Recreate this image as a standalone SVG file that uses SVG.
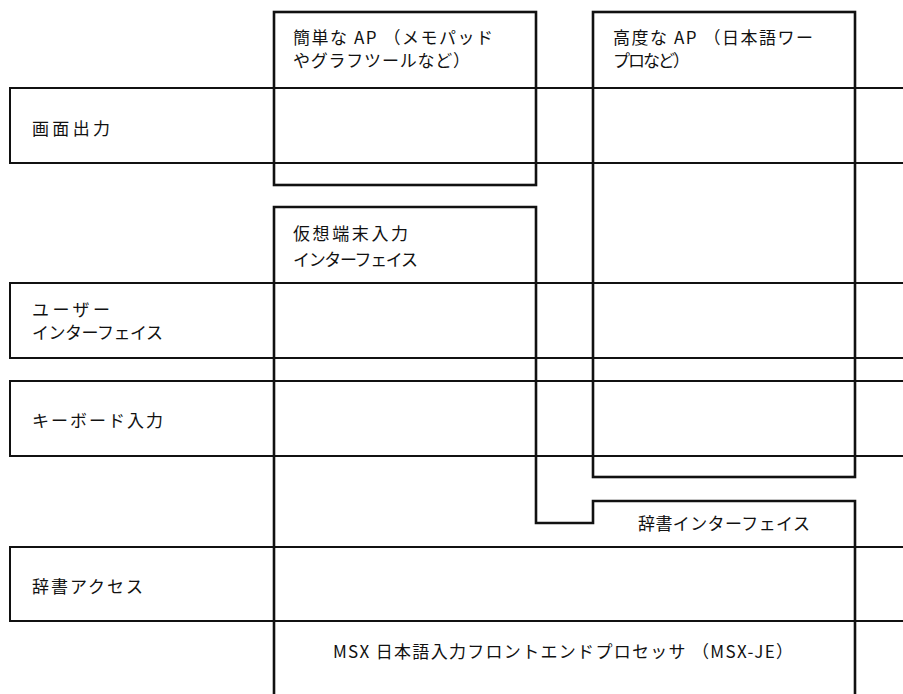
<svg xmlns="http://www.w3.org/2000/svg" width="903" height="694" viewBox="0 0 903 694">
<style>
.box{fill:none;stroke:#111;stroke-width:2.6;stroke-linejoin:miter}
.band{fill:none;stroke:#111;stroke-width:2}
text{font-family:"Noto Sans CJK JP","Liberation Sans",sans-serif;font-size:17px;fill:#111}
</style>
<rect width="903" height="694" fill="#fff"/>
<g id="bands">
<g id="band-screen"><rect class="band" x="10" y="88" width="905" height="75"/><text x="32" y="135" textLength="78" lengthAdjust="spacing">画面出力</text></g>
<g id="band-ui"><rect class="band" x="10" y="283" width="905" height="75"/><text x="32" y="316" textLength="78" lengthAdjust="spacing">ユーザー</text><text x="32" y="339" textLength="131" lengthAdjust="spacing">インターフェイス</text></g>
<g id="band-keyboard"><rect class="band" x="10" y="381" width="905" height="75"/><text x="32" y="427" textLength="131" lengthAdjust="spacing">キーボード入力</text></g>
<g id="band-dict"><rect class="band" x="10" y="547" width="905" height="74"/><text x="32" y="593" textLength="111" lengthAdjust="spacing">辞書アクセス</text></g>
</g>
<g id="simple-ap"><rect class="box" x="274" y="12" width="262" height="173"/><text x="293" y="44" textLength="200" lengthAdjust="spacing">簡単な AP （メモパッド</text><text x="293" y="67" textLength="177" lengthAdjust="spacing">やグラフツールなど）</text></g>
<g id="advanced-ap"><rect class="box" x="593" y="12" width="262" height="465"/><text x="613" y="44" textLength="200" lengthAdjust="spacing">高度な AP （日本語ワー</text><text x="613" y="67" textLength="77" lengthAdjust="spacing">プロなど）</text></g>
<g id="fep"><path class="box" d="M274 697 V207 H536 V523 H593 V501 H855 V697"/>
<text x="293" y="240" textLength="115" lengthAdjust="spacing">仮想端末入力</text>
<text x="293" y="266" textLength="125" lengthAdjust="spacing">インターフェイス</text>
<text x="638" y="530" textLength="172" lengthAdjust="spacing">辞書インターフェイス</text>
<text x="333" y="658" textLength="460" lengthAdjust="spacing">MSX 日本語入力フロントエンドプロセッサ （MSX-JE）</text>
</g>
<g id="connectors"></g>
</svg>
